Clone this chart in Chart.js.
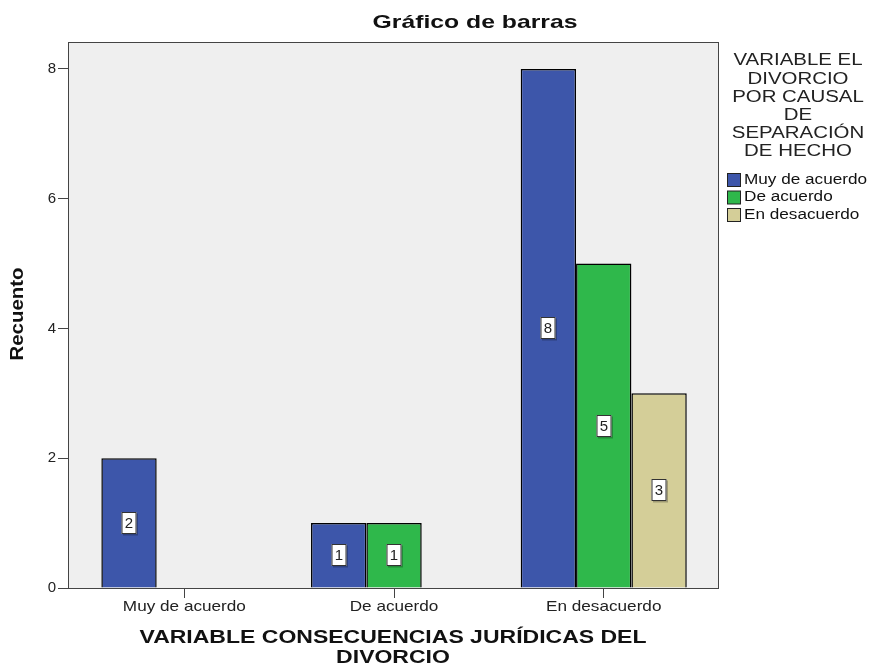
<!DOCTYPE html>
<html>
<head>
<meta charset="utf-8">
<script src="https://cdn.jsdelivr.net/npm/chart.js@4/dist/chart.umd.min.js"></script>
<style>
  html, body { margin: 0; padding: 0; background: #fff; }
  canvas { display: block; }
</style>
</head>
<body>
<canvas id="barChart" width="872" height="669"></canvas>
<script>
// Data (SPSS bar chart of counts)
const categories = ['Muy de acuerdo', 'De acuerdo', 'En desacuerdo'];
const seriesNames = ['Muy de acuerdo', 'De acuerdo', 'En desacuerdo'];
const muyDeAcuerdo = [2, 1, 8];
const deAcuerdo = [null, 1, 5];
const enDesacuerdo = [null, null, 3];
const yTicks = [0, 2, 4, 6, 8];
const seriesColors = ['#3d56aa', '#2fb84b', '#d4ce98'];

const chartTitle = 'Gráfico de barras';
const yTitle = 'Recuento';
const xTitle = ['VARIABLE CONSECUENCIAS JURÍDICAS DEL', 'DIVORCIO'];
const legendTitle = ['VARIABLE EL', 'DIVORCIO', 'POR CAUSAL', 'DE', 'SEPARACIÓN', 'DE HECHO'];

const FONT = '"Liberation Sans", Arial, sans-serif';

function toPoints(vals) {
  return vals.map((v, i) => ({ x: i, y: v })).filter(p => p.y !== null);
}

// draw text stretched horizontally (SPSS export is wider than plain Arial)
function drawFit(ctx, text, x, y, px, bold, sx, align) {
  ctx.save();
  ctx.font = (bold ? 'bold ' : '') + px + 'px ' + FONT;
  ctx.translate(x, y);
  ctx.scale(sx, 1);
  ctx.textAlign = align || 'center';
  ctx.textBaseline = 'middle';
  ctx.fillText(text, 0, 0);
  ctx.restore();
}
function scaleFor(ctx, text, px, bold, targetW) {
  ctx.save();
  ctx.font = (bold ? 'bold ' : '') + px + 'px ' + FONT;
  const w = ctx.measureText(text).width;
  ctx.restore();
  return targetW / w;
}

const framePlugin = {
  id: 'frame',
  beforeDraw(chart) {
    const { ctx, chartArea: a } = chart;
    ctx.save();
    ctx.fillStyle = '#efefef';
    ctx.fillRect(a.left, a.top, a.right - a.left, a.bottom - a.top);
    ctx.restore();
  },
  afterDraw(chart) {
    const { ctx, chartArea: a } = chart;
    ctx.save();
    ctx.strokeStyle = '#444';
    ctx.lineWidth = 1;
    ctx.strokeRect(a.left + 0.5, a.top + 0.5, a.right - a.left, a.bottom - a.top);

    ctx.fillStyle = '#111';
    // chart title
    let sx = scaleFor(ctx, chartTitle, 19, true, 205);
    drawFit(ctx, chartTitle, 475, 23, 19, true, sx);

    // category labels, placed by the x scale
    const xs = chart.scales.x;
    ctx.fillStyle = '#222';
    sx = scaleFor(ctx, categories[0], 15, false, 123);
    categories.forEach((c, i) => drawFit(ctx, c, xs.getPixelForValue(i), 607, 15, false, sx));

    // x axis title
    ctx.fillStyle = '#111';
    sx = scaleFor(ctx, xTitle[0], 18, true, 507);
    drawFit(ctx, xTitle[0], (a.left + a.right) / 2, 638, 18, true, sx);
    drawFit(ctx, xTitle[1], (a.left + a.right) / 2, 658, 18, true, sx);

    // y axis title
    ctx.save();
    ctx.translate(18, 314);
    ctx.rotate(-Math.PI / 2);
    sx = scaleFor(ctx, yTitle, 18, true, 93);
    drawFit(ctx, yTitle, 0, 0, 18, true, sx);
    ctx.restore();

    // legend
    ctx.fillStyle = '#222';
    sx = scaleFor(ctx, legendTitle[0], 16, false, 129);
    legendTitle.forEach((t, i) => drawFit(ctx, t, 798, 61 + i * 18.2, 16, false, sx));
    const lsx = scaleFor(ctx, seriesNames[0], 14, false, 123);
    seriesNames.forEach((name, i) => {
      const y = 180 + i * 17.5;
      ctx.fillStyle = seriesColors[i];
      ctx.fillRect(727.5, y - 6.5, 13, 13);
      ctx.strokeStyle = '#222';
      ctx.strokeRect(727.5, y - 6.5, 13, 13);
      ctx.fillStyle = '#111';
      drawFit(ctx, name, 744, y, 14, false, lsx, 'left');
    });
    ctx.restore();
  }
};

// value boxes in the middle of each bar
const barLabelPlugin = {
  id: 'barLabels',
  afterDatasetsDraw(chart) {
    const { ctx } = chart;
    ctx.save();
    chart.data.datasets.forEach((ds, di) => {
      const meta = chart.getDatasetMeta(di);
      meta.data.forEach((el, i) => {
        const v = ds.data[i].y;
        const cx = Math.round(el.x);
        const cy = Math.round((el.y + el.base) / 2);
        const w = 15, h = 22;
        ctx.fillStyle = 'rgba(0,0,0,0.25)';
        ctx.fillRect(cx - w / 2 + 1.5, cy - h / 2 + 1.5, w, h);
        ctx.fillStyle = '#fff';
        ctx.fillRect(cx - w / 2, cy - h / 2, w, h);
        ctx.strokeStyle = '#333';
        ctx.lineWidth = 1;
        ctx.strokeRect(cx - w / 2 + 0.5, cy - h / 2 + 0.5, w - 1, h - 1);
        ctx.fillStyle = '#222';
        ctx.font = '15px ' + FONT;
        ctx.textAlign = 'center';
        ctx.textBaseline = 'middle';
        ctx.fillText(String(v), cx, cy + 1);
      });
    });
    ctx.restore();
  }
};

const seriesValues = [muyDeAcuerdo, deAcuerdo, enDesacuerdo];

new Chart(document.getElementById('barChart'), {
  type: 'bar',
  data: {
    datasets: seriesNames.map((name, i) => ({
      label: name,
      data: toPoints(seriesValues[i]),
      backgroundColor: seriesColors[i],
      borderColor: '#000',
      borderWidth: 1.5,
      categoryPercentage: 0.792,
      barPercentage: 1,
    })),
  },
  options: {
    responsive: false,
    animation: false,
    layout: { padding: { left: 0, top: 42, right: 154, bottom: 0 } },
    plugins: {
      legend: { display: false },
      tooltip: { enabled: false },
      title: { display: false },
    },
    scales: {
      x: {
        type: 'linear',
        min: -0.555,
        max: 2.545,
        offset: false,
        grid: { offset: false, drawOnChartArea: false, drawTicks: true, tickLength: 10, color: '#444' },
        border: { display: false },
        afterBuildTicks: s => { s.ticks = categories.map((c, i) => ({ value: i })); },
        afterFit: s => { s.height = 81; s.paddingLeft = 0; s.paddingRight = 0; },
        ticks: { display: false, autoSkip: false, maxRotation: 0 },
      },
      y: {
        min: 0,
        max: 8.416,
        grid: { drawOnChartArea: false, drawTicks: true, tickLength: 10, color: '#444' },
        border: { display: false },
        afterBuildTicks: s => { s.ticks = yTicks.map(v => ({ value: v })); },
        afterFit: s => { s.width = 68; s.paddingTop = 0; s.paddingBottom = 0; },
        ticks: {
          padding: 2,
          color: '#222',
          font: { family: FONT, size: 15 },
        },
      },
    },
  },
  plugins: [framePlugin, barLabelPlugin],
});
</script>
</body>
</html>
